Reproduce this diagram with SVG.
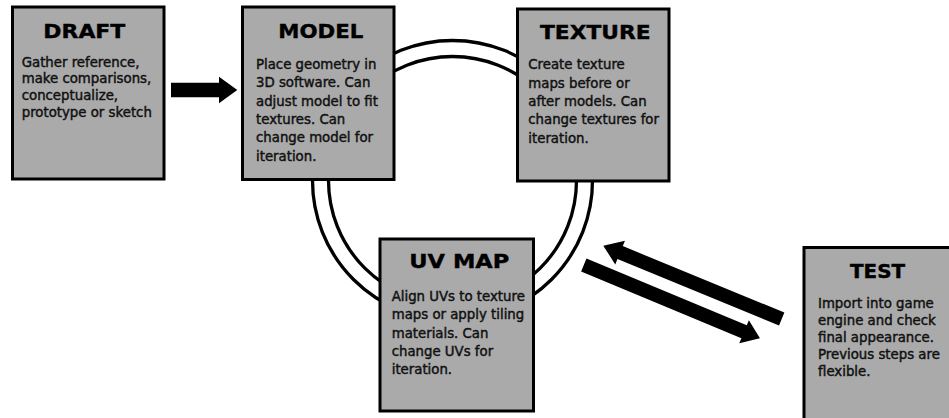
<svg xmlns="http://www.w3.org/2000/svg" width="949" height="418" viewBox="0 0 949 418">
  <style>
    .box { fill: #aaaaaa; stroke: #000; stroke-width: 3; }
    .title { font-family: "DejaVu Sans", "Liberation Sans", sans-serif; font-weight: bold; font-size: 19.5px; fill: #000; stroke: #000; stroke-width: 0.4; }
    .body { font-family: "DejaVu Sans", "Liberation Sans", sans-serif; font-size: 13.3px; fill: #111; stroke: #111; stroke-width: 0.45; }
    .ring { fill: none; stroke: #000; stroke-width: 3.3; }
    .arrow { fill: #000; }
  </style>
  <rect width="949" height="418" fill="#fff"/>
  <g id="connectors">
    <circle class="ring" cx="452.5" cy="180.5" r="140"/>
    <circle class="ring" cx="452.5" cy="180.5" r="124"/>
    <polygon class="arrow" points="171,82.7 219,82.7 219,76.7 237.3,90 219,103.3 219,97.3 171,97.3"/>
    <polygon class="arrow" transform="translate(781.7,319) rotate(-157.66)" points="0,-7 174.7,-7 174.7,-12.8 192.9,0 174.7,12.8 174.7,7 0,7"/>
    <polygon class="arrow" transform="translate(583.8,265) rotate(22.59)" points="0,-7 173.6,-7 173.6,-12.5 190.8,0 173.6,12.5 173.6,7 0,7"/>
  </g>
  <g id="draft">
    <rect class="box" x="12.5" y="7" width="151.5" height="172"/>
    <text class="title" x="43.3" y="37.7" textLength="82" lengthAdjust="spacingAndGlyphs">DRAFT</text>
    <text class="body">
      <tspan x="21.7" y="66.7">Gather reference,</tspan>
      <tspan x="21.7" y="83.3">make comparisons,</tspan>
      <tspan x="21.7" y="100">conceptualize,</tspan>
      <tspan x="21.7" y="116.7">prototype or sketch</tspan>
    </text>
  </g>
  <g id="model">
    <rect class="box" x="242.5" y="7" width="151.5" height="172.5"/>
    <text class="title" x="278.3" y="37.7" textLength="85" lengthAdjust="spacingAndGlyphs">MODEL</text>
    <text class="body">
      <tspan x="256" y="69">Place geometry in</tspan>
      <tspan x="256" y="87.3">3D software. Can</tspan>
      <tspan x="256" y="105.7">adjust model to fit</tspan>
      <tspan x="256" y="124">textures. Can</tspan>
      <tspan x="256" y="142.3">change model for</tspan>
      <tspan x="256" y="160.7">iteration.</tspan>
    </text>
  </g>
  <g id="texture">
    <rect class="box" x="517.5" y="9" width="151.5" height="172"/>
    <text class="title" x="540" y="39.3" textLength="110.7" lengthAdjust="spacingAndGlyphs">TEXTURE</text>
    <text class="body">
      <tspan x="528.3" y="69">Create texture</tspan>
      <tspan x="528.3" y="87.5">maps before or</tspan>
      <tspan x="528.3" y="106">after models. Can</tspan>
      <tspan x="528.3" y="124.3">change textures for</tspan>
      <tspan x="528.3" y="142.7">iteration.</tspan>
    </text>
  </g>
  <g id="uvmap">
    <rect class="box" x="380" y="239" width="153.5" height="172"/>
    <text class="title" x="409.3" y="267.7" textLength="100" lengthAdjust="spacingAndGlyphs">UV MAP</text>
    <text class="body">
      <tspan x="391.7" y="301">Align UVs to texture</tspan>
      <tspan x="391.7" y="319.3">maps or apply tiling</tspan>
      <tspan x="391.7" y="337.5">materials. Can</tspan>
      <tspan x="391.7" y="356">change UVs for</tspan>
      <tspan x="391.7" y="374.3">iteration.</tspan>
    </text>
  </g>
  <g id="test">
    <rect class="box" x="804" y="247.5" width="160" height="200"/>
    <text class="title" x="850" y="277.7" textLength="55" lengthAdjust="spacingAndGlyphs">TEST</text>
    <text class="body">
      <tspan x="818" y="307.7">Import into game</tspan>
      <tspan x="818" y="325">engine and check</tspan>
      <tspan x="818" y="342.3">final appearance.</tspan>
      <tspan x="818" y="359.3">Previous steps are</tspan>
      <tspan x="818" y="376">flexible.</tspan>
    </text>
  </g>
</svg>
